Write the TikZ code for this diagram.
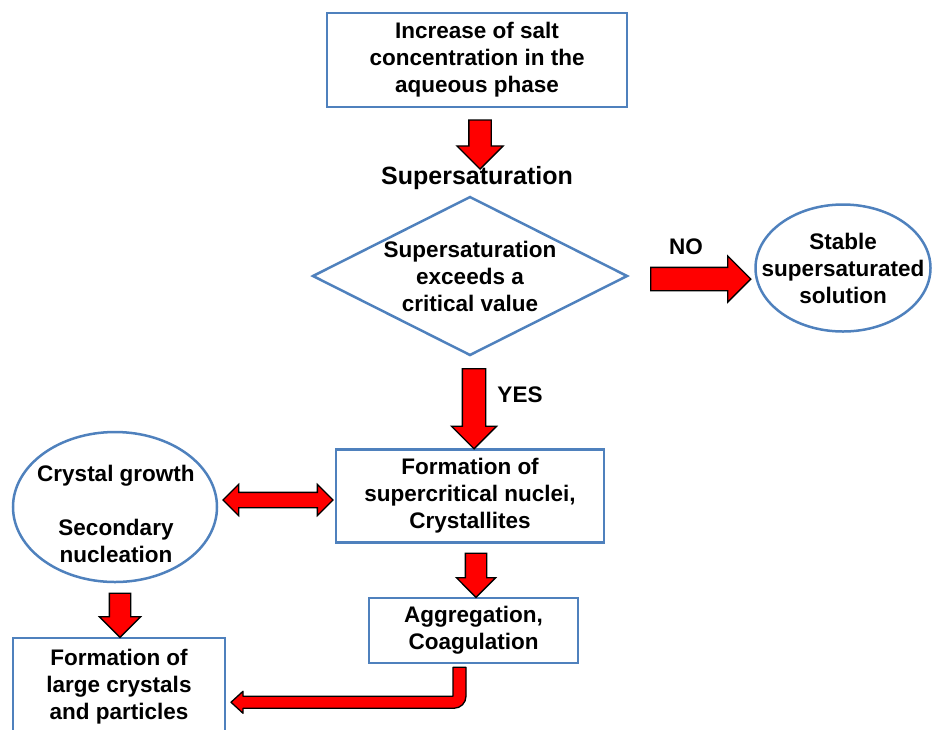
\documentclass[tikz,border=0pt]{standalone}
\usepackage{fontspec}
\setmainfont{Liberation Sans}
\usepackage{tikz}
\usetikzlibrary{shapes.geometric,shapes.arrows}

\definecolor{boxblue}{RGB}{79,129,189}

\tikzset{
  txt/.style={font=\bfseries\fontsize{22.5}{27}\selectfont, align=center, inner sep=0pt},
  box/.style={txt, draw=boxblue, line width=2.5pt},
  oval/.style={ellipse, draw=boxblue, line width=2.5pt, inner sep=0pt},
  downarrow/.style={single arrow, draw=black, fill=red, line width=1.3pt,
    shape border rotate=270},
}

\begin{document}
\begin{tikzpicture}[x=1pt,y=-1pt]
  \useasboundingbox (0,0) rectangle (933,729);

  \node[box, minimum width=300, minimum height=94] (salt) at (477,60)
    {Increase of salt\\concentration in the\\aqueous phase};
  \node[txt, font=\bfseries\fontsize{25}{30}\selectfont] (super) at (477,178) {Supersaturation};
  \node[box, diamond, aspect=2, minimum width=315, minimum height=159, inner xsep=-4pt] (crit) at (470,276)
    {Supersaturation\\exceeds a\\critical value};

  \node[oval, minimum width=175, minimum height=127] (stable) at (843,268) {};
  \node[txt] at (stable) {Stable\\supersaturated\\solution};

  \node[box, minimum width=268, minimum height=93] (nuclei) at (470,496)
    {Formation of\\supercritical nuclei,\\Crystallites};

  \node[oval, minimum width=204, minimum height=150] (growth) at (115,507) {};
  \node[txt] at (116,514) {Crystal growth\\[27pt]Secondary\\nucleation};

  \node[box, minimum width=209, minimum height=65] (aggr) at (473.5,630.5)
    {Aggregation,\\Coagulation};
  \node[box, minimum width=212, minimum height=98] (large) at (119,687)
    {Formation of\\large crystals\\and particles};

  % block arrows
  \node[downarrow, inner sep=10.5pt, minimum height=49, minimum width=45, single arrow head extend=12] (a1) at (480,139) {};
  \node[downarrow, inner sep=11pt, minimum height=80, minimum width=44, single arrow head extend=11] (ayes) at (474,403) {};
  \node[txt] at (520,395) {YES};
  \node[downarrow, shape border rotate=0, inner sep=11pt, minimum height=100, minimum width=45, single arrow head extend=11.5] (ano) at (695,279) {};
  \node[txt] at (686,247) {NO};
  \node[double arrow, draw=black, fill=red, line width=1.3pt, inner sep=7pt,
    minimum height=110, minimum width=30, double arrow head extend=8] (both) at (278,500) {};
  \node[downarrow, inner sep=10pt, minimum height=44, minimum width=38, single arrow head extend=9] (a3) at (476,570) {};
  \node[downarrow, inner sep=10pt, minimum height=44, minimum width=40, single arrow head extend=10] (a4) at (120,610) {};

  % bent arrow into the last box
  \draw[black, fill=red, line width=1.3pt, line join=round]
    (aggr.south) ++(-20.5,3) -- ++(13,0) -- ++(0,29)
    arc[start angle=0, end angle=90, radius=12] -- ++(-211,0) -- ++(0,5)
    -- ++(-12,-11) -- ++(12,-11) -- ++(0,5) -- ++(210,0) -- cycle;
\end{tikzpicture}
\end{document}
